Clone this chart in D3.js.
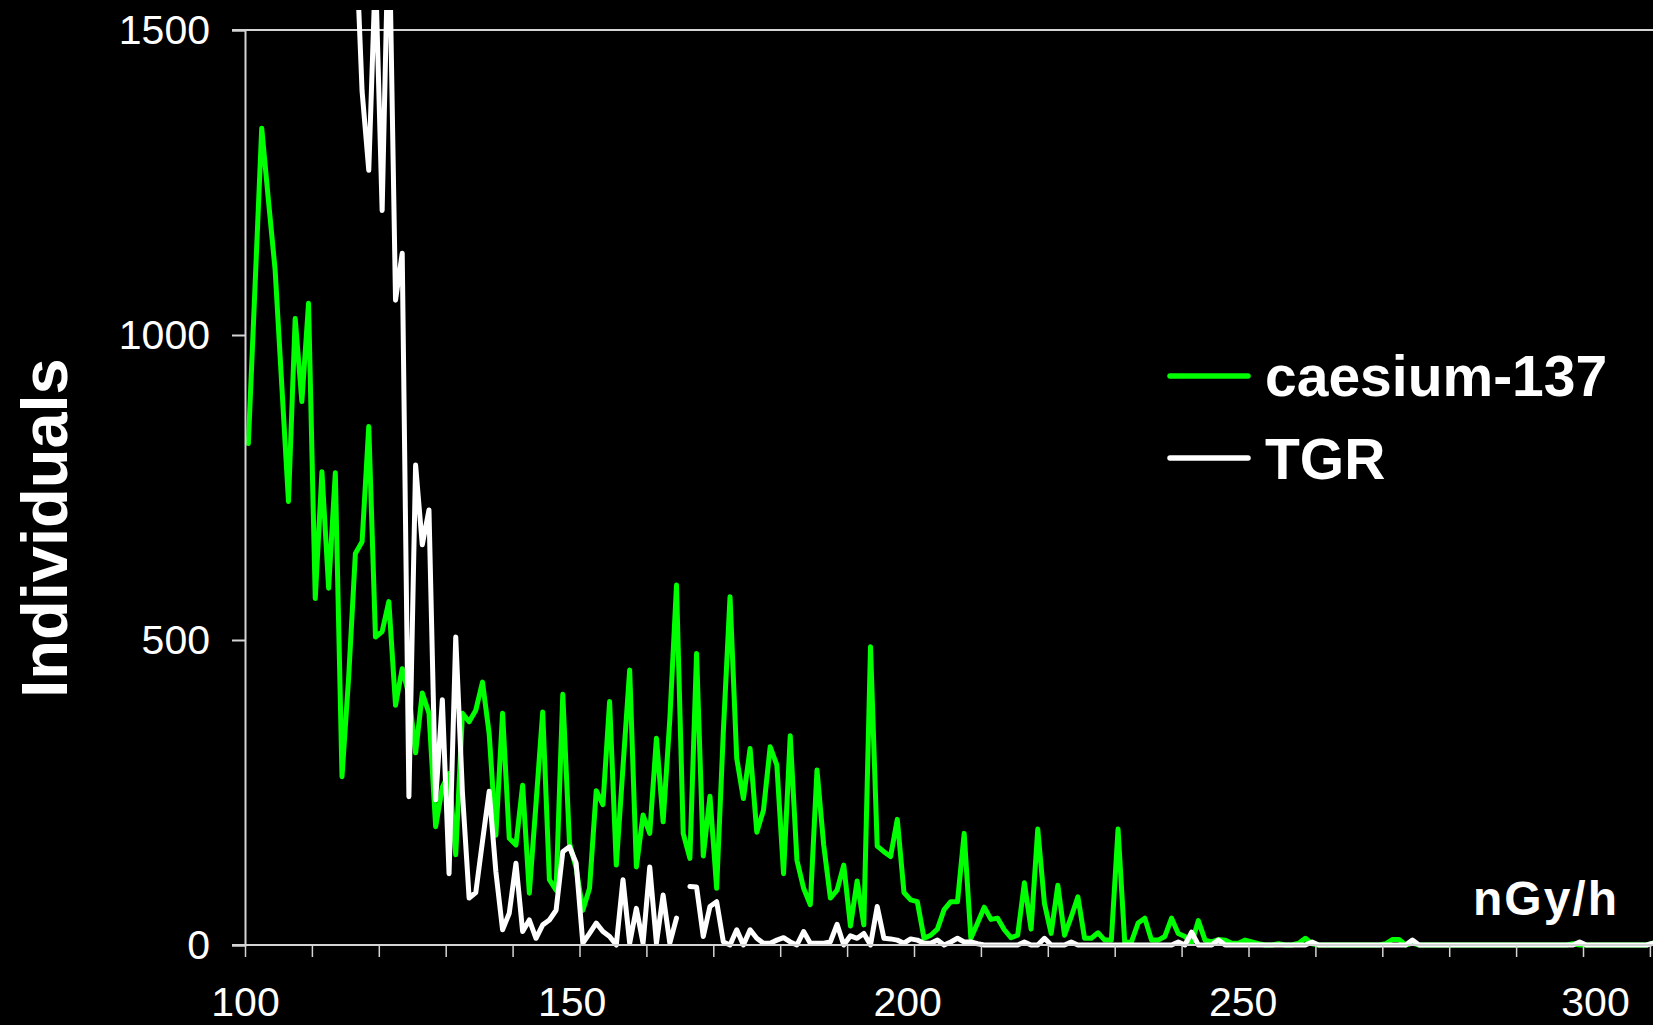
<!DOCTYPE html>
<html>
<head>
<meta charset="utf-8">
<script src="https://cdn.jsdelivr.net/npm/d3@7"></script>
<style>
  html, body { margin: 0; padding: 0; background: #000; }
  svg { display: block; }
  text { font-family: "Liberation Sans", Arial, sans-serif; }
</style>
</head>
<body>
<svg id="chart" width="1653" height="1025"></svg>
<script>
// ---------- DATA ----------
// dose-rate bins (nGy/h), one per unit, centred at 100.5, 101.5, ...
const doseBins = d3.range(100.5, 311, 1);

const caesium137 = [
  822,1080,1339,1221,1107,917,727,1027,891,1052,
  568,776,585,774,276,440,642,661,850,505,
  514,563,393,453,410,315,413,380,194,259,
  281,148,380,366,385,431,346,180,380,175,
  164,262,85,232,382,107,90,411,167,126,
  57,93,253,230,399,131,292,451,128,213,
  183,339,202,370,590,183,142,478,146,244,
  93,350,571,306,240,322,185,221,325,295,
  117,343,139,93,66,287,164,77,90,131,
  31,105,33,489,162,153,145,206,86,74,
  71,11,16,26,58,71,71,183,11,36,
  62,42,44,25,12,16,102,26,190,68,
  19,98,16,46,79,11,11,20,8,8,
  190,4,5,36,44,8,8,14,44,19,
  14,3,40,8,5,9,8,3,3,8,
  5,2,0,0,2,0,0,3,11,2,
  0,0,0,0,0,0,0,0,0,0,
  2,9,9,0,3,0,0,0,0,0,
  0,0,0,0,0,0,0,0,0,0,
  0,0,0,0,0,0,0,0,2,0,
  0,0,0,0,0,0,0,0,0,0,
  3
];

const tgr = [
  2900,2800,2850,2700,2600,2500,2450,2350,2300,2200,
  2150,2050,2000,1950,1880,1800,1670,1400,1270,1600,
  1204,1700,1057,1134,243,787,656,713,238,402,
  117,505,250,77,86,170,252,120,25,52,
  134,22,41,11,33,41,57,153,161,134,
  3,19,36,22,14,0,107,3,60,3,
  128,3,82,3,44,null,96,95,14,63,
  71,5,0,25,0,25,11,3,3,8,
  12,5,0,22,3,3,3,5,34,0,
  15,11,19,0,63,11,10,8,3,10,
  8,3,3,8,0,5,11,5,5,2,
  0,0,0,0,0,0,5,0,0,11,
  0,0,0,5,0,0,0,0,0,0,
  0,0,0,0,0,0,0,0,0,5,
  0,21,0,0,0,8,0,0,0,0,
  0,0,0,0,0,0,0,0,0,5,
  0,0,0,0,0,0,0,0,0,0,
  0,0,0,0,8,0,0,0,0,0,
  0,0,0,0,0,0,0,0,0,0,
  0,0,0,0,0,0,0,0,0,5,
  0,0,0,0,0,0,0,0,0,0,
  3
];

const xTickValues = d3.range(100, 311, 10);
const xLabelValues = [100, 150, 200, 250, 300];
const yTickValues = [0, 500, 1000, 1500];
const seriesNames = ["caesium-137", "TGR"];
const seriesColors = ["#00ff00", "#ffffff"];
const xTitle = "nGy/h";
const yTitle = "Individuals";

// ---------- LAYOUT ----------
(function () {
const svg = d3.select("#chart");
const axisColor = "#d4d4d4";
const pLeft = 245, pRight = 1653, pTop = 30, pBottom = 945;

const x = d3.scaleLinear().domain([100, 310.5]).range([pLeft, pLeft + 210.5 * 6.69]);
// category-axis labels as placed in the original (edge labels sit slightly off the tick grid)
const xLabel = d3.scaleLinear().domain([100, 150, 250, 300]).range([245, 571.6, 1242.6, 1595]);
const y = d3.scaleLinear().domain([0, 1500]).range([pBottom, pTop]);

// clip
svg.append("defs").append("clipPath").attr("id", "plotclip")
  .append("rect").attr("x", pLeft).attr("y", 10)
  .attr("width", pRight - pLeft).attr("height", pBottom - 10 + 6);

// top border of plot area
svg.append("line")
  .attr("x1", 232).attr("x2", pRight).attr("y1", y(1500)).attr("y2", y(1500))
  .attr("stroke", axisColor).attr("stroke-width", 2);

// series lines
const line = d3.line()
  .defined(d => d[1] !== null)
  .x(d => x(d[0]))
  .y(d => y(d[1]));

const gLines = svg.append("g").attr("clip-path", "url(#plotclip)");
[caesium137, tgr].forEach((vals, k) => {
  gLines.append("path")
    .datum(doseBins.map((b, i) => [b, vals[i] === undefined ? null : vals[i]]))
    .attr("d", line)
    .attr("fill", "none")
    .attr("stroke", seriesColors[k])
    .attr("stroke-width", 5)
    .attr("stroke-linejoin", "round")
    .attr("stroke-linecap", "round");
});

// y axis
const yAxis = svg.append("g")
  .attr("transform", `translate(${pLeft},0)`)
  .call(d3.axisLeft(y).tickValues(yTickValues).tickSize(13).tickPadding(22).tickFormat(d3.format("d")));
yAxis.select(".domain").attr("stroke", axisColor).attr("stroke-width", 2);
yAxis.selectAll(".tick line").attr("stroke", axisColor).attr("stroke-width", 2);
yAxis.selectAll(".tick text").attr("fill", "#fff")
  .style("font-size", "41px").style("font-family", "'Liberation Sans', Arial, sans-serif");

// x axis ticks
const xAxis = svg.append("g")
  .attr("transform", `translate(0,${pBottom})`)
  .call(d3.axisBottom(x).tickValues(xTickValues).tickSize(12).tickFormat(""));
xAxis.select(".domain").attr("stroke", axisColor).attr("stroke-width", 2)
  .attr("d", `M232,0H${pRight}`);
xAxis.selectAll(".tick line").attr("stroke", axisColor).attr("stroke-width", 1.5);

// x axis labels
const xLab = svg.append("g")
  .attr("transform", `translate(0,${pBottom})`)
  .call(d3.axisBottom(xLabel).tickValues(xLabelValues).tickSize(0).tickFormat(d3.format("d")));
xLab.select(".domain").remove();
xLab.selectAll(".tick text").attr("fill", "#fff").attr("y", 71).attr("dy", null)
  .style("font-size", "41px").style("font-family", "'Liberation Sans', Arial, sans-serif");

// axis titles
svg.append("text")
  .attr("transform", "translate(67,528) rotate(-90)")
  .attr("text-anchor", "middle")
  .attr("fill", "#fff").attr("font-weight", "bold").attr("font-size", 65)
  .text(yTitle);

svg.append("text")
  .attr("x", 1473).attr("y", 915)
  .attr("fill", "#fff").attr("font-weight", "bold").attr("font-size", 48)
  .attr("letter-spacing", 2)
  .text(xTitle);

// legend
const legendY = [376, 458];
const legendTextY = [396, 479];
seriesNames.forEach((name, k) => {
  svg.append("line")
    .attr("x1", 1170).attr("x2", 1248)
    .attr("y1", legendY[k]).attr("y2", legendY[k])
    .attr("stroke", seriesColors[k]).attr("stroke-width", 5.5)
    .attr("stroke-linecap", "round");
  svg.append("text")
    .attr("x", 1265).attr("y", legendTextY[k])
    .attr("fill", "#fff").attr("font-weight", "bold").attr("font-size", 57)
    .text(name);
});
})();
</script>
</body>
</html>
